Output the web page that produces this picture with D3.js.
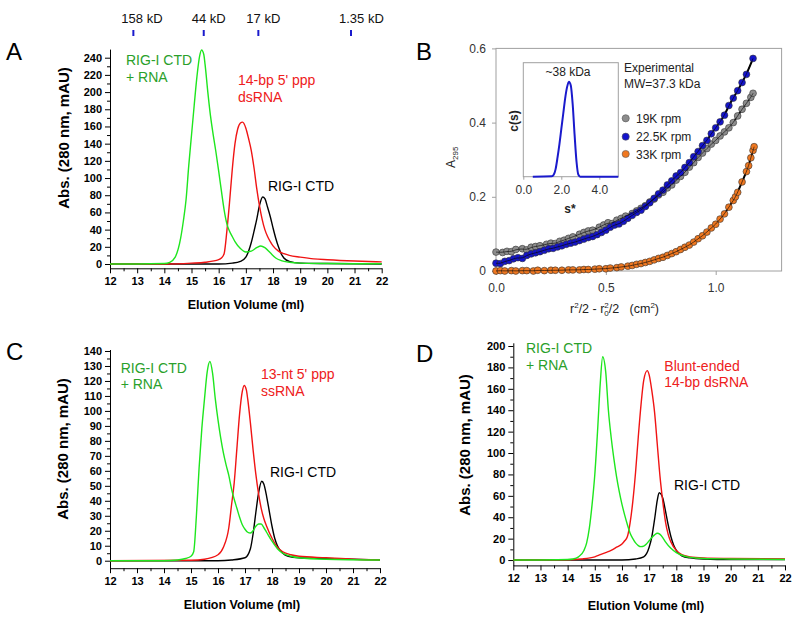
<!DOCTYPE html>
<html><head><meta charset="utf-8">
<script src="https://cdn.jsdelivr.net/npm/d3@7"></script>
<style>body{margin:0;background:#fff}svg{display:block;font-family:"Liberation Sans",Arial,sans-serif}</style>
</head><body><svg width="800" height="620"></svg>
<script>
// ---------- DATA ----------
const volTicks = [12,13,14,15,16,17,18,19,20,21,22];
const markerVols = [12.86, 15.45, 17.46, 20.87];
const markerLabels = ["158 kD","44 kD","17 kD","1.35 kD"];

// Panel A
const aGreen = [[12,0],[13,0],[14,0.5],[14.2,2],[14.4,8],[14.6,30],[14.7,50],[14.8,75],[14.9,115],[15.0,150],[15.1,185],[15.2,218],[15.3,242],[15.37,249],[15.45,244],[15.5,232],[15.6,200],[15.7,172],[15.8,150],[15.9,130],[16.0,108],[16.1,85],[16.2,63],[16.3,47],[16.4,38],[16.5,32],[16.6,26],[16.8,18],[17.0,14],[17.2,15],[17.4,19],[17.55,21],[17.7,19],[17.9,13],[18.1,7],[18.3,4],[18.6,2],[19,1],[20,0.5],[22,0.3]];
const aRed = [[12,0],[14,0],[15,1],[15.5,2],[16,5],[16.1,7],[16.2,12],[16.3,38],[16.4,72],[16.5,110],[16.6,140],[16.7,157],[16.8,164],[16.88,165],[17.0,158],[17.1,146],[17.2,132],[17.3,112],[17.4,88],[17.5,68],[17.6,52],[17.7,40],[17.8,32],[17.9,26],[18.0,21],[18.2,15],[18.4,12],[18.6,10],[19,8],[19.5,6],[20,5],[21,3.5],[22,2.5]];
const aBlack = [[12,0],[16,0],[16.5,1],[16.8,3],[17.0,8],[17.2,25],[17.3,38],[17.4,52],[17.5,68],[17.62,78],[17.7,76],[17.8,66],[17.9,55],[18.0,42],[18.1,30],[18.2,20],[18.3,12],[18.4,7],[18.6,3],[19,1],[20,0.5],[22,0]];

// Panel C
const cGreen = [[12,0],[14,0],[14.5,0.5],[14.8,1.5],[15.0,3],[15.1,6],[15.2,30],[15.3,62],[15.4,88],[15.5,108],[15.6,126],[15.7,133],[15.8,125],[15.9,108],[16.0,94],[16.1,82],[16.2,72],[16.3,64],[16.4,57],[16.5,48],[16.6,41],[16.7,35],[16.8,29],[16.9,24],[17.0,21],[17.1,19],[17.2,18.5],[17.3,20],[17.4,23],[17.5,24.5],[17.6,24.5],[17.7,22],[17.8,19],[18.0,13],[18.2,8],[18.4,5],[18.7,3],[19,2],[20,1],[22,0.5]];
const cRed = [[12,0],[15,0.3],[15.5,1],[16.0,4],[16.2,9],[16.4,22],[16.5,37],[16.6,52],[16.7,75],[16.8,98],[16.9,113],[16.97,117],[17.05,114],[17.1,108],[17.2,92],[17.3,74],[17.4,58],[17.5,45],[17.6,35],[17.7,28],[17.8,23],[18.0,15],[18.2,9],[18.4,6],[18.7,4],[19,3],[20,2],[21,1],[22,0.5]];
const cBlack = [[12,0],[16,0],[16.5,0.5],[17.0,2],[17.2,8],[17.3,18],[17.4,32],[17.5,45],[17.62,53],[17.7,51],[17.8,43],[17.9,33],[18.0,23],[18.1,15],[18.2,10],[18.4,5],[18.6,3],[19,2],[20,1.5],[22,0.5]];

// Panel D
const dGreen = [[12,0],[14,0.5],[14.2,1],[14.4,3],[14.6,9],[14.7,16],[14.8,30],[14.9,52],[15.0,80],[15.1,120],[15.2,165],[15.29,190],[15.4,176],[15.5,140],[15.6,115],[15.7,95],[15.8,78],[15.9,64],[16.0,52],[16.1,42],[16.2,33],[16.3,25],[16.4,20],[16.5,16],[16.6,13.5],[16.7,12.5],[16.8,13],[16.9,15],[17.0,18],[17.1,21],[17.2,23.5],[17.3,25],[17.4,24],[17.5,21],[17.6,17],[17.8,11],[18.0,7],[18.2,4.5],[18.5,2.5],[19,1.5],[20,1],[22,0.5]];
const dRed = [[12,0],[14,0.3],[14.5,1],[15.0,3],[15.2,5],[15.4,7],[15.6,9],[15.8,12],[16.0,15],[16.1,18],[16.2,22],[16.3,35],[16.4,55],[16.5,82],[16.6,115],[16.7,145],[16.8,168],[16.93,177],[17.0,173],[17.1,158],[17.2,138],[17.3,108],[17.4,78],[17.5,55],[17.6,36],[17.7,24],[17.8,17],[18.0,9],[18.2,5],[18.5,3],[19,2],[20,1.5],[22,1]];
const dBlack = [[12,0],[16,0],[16.5,1],[16.8,3],[17.0,12],[17.1,22],[17.2,38],[17.3,56],[17.37,63],[17.45,61],[17.5,58],[17.6,46],[17.7,33],[17.8,22],[17.9,14],[18.0,9],[18.2,4],[18.5,2],[19,1],[20,0.5],[22,0.5]];

// Panel B (sedimentation equilibrium)
const b19K = [[0.00,0.051],[0.03,0.050],[0.05,0.053],[0.07,0.052],[0.09,0.058],[0.12,0.060],[0.14,0.057],[0.16,0.064],[0.18,0.066],[0.20,0.068],[0.23,0.072],[0.25,0.075],[0.27,0.074],[0.29,0.080],[0.31,0.083],[0.33,0.088],[0.35,0.092],[0.38,0.099],[0.40,0.104],[0.42,0.108],[0.44,0.110],[0.47,0.118],[0.49,0.124],[0.51,0.130],[0.53,0.128],[0.55,0.137],[0.57,0.142],[0.59,0.148],[0.62,0.155],[0.64,0.162],[0.66,0.169],[0.68,0.176],[0.70,0.186],[0.72,0.194],[0.74,0.205],[0.76,0.212],[0.78,0.224],[0.80,0.232],[0.82,0.245],[0.84,0.255],[0.86,0.266],[0.88,0.280],[0.90,0.292],[0.92,0.306],[0.94,0.318],[0.96,0.330],[0.98,0.342],[1.00,0.352],[1.02,0.364],[1.04,0.375],[1.06,0.386],[1.08,0.400],[1.10,0.418],[1.12,0.436],[1.14,0.452],[1.16,0.468],[1.17,0.479]];
const b22K = [[0.00,0.021],[0.02,0.020],[0.04,0.026],[0.06,0.028],[0.08,0.033],[0.10,0.036],[0.12,0.034],[0.14,0.042],[0.16,0.046],[0.18,0.049],[0.20,0.052],[0.22,0.056],[0.24,0.060],[0.26,0.061],[0.28,0.065],[0.30,0.068],[0.32,0.072],[0.34,0.075],[0.36,0.078],[0.38,0.082],[0.40,0.086],[0.42,0.090],[0.44,0.093],[0.46,0.098],[0.48,0.104],[0.50,0.110],[0.52,0.118],[0.54,0.124],[0.56,0.127],[0.58,0.134],[0.60,0.142],[0.62,0.150],[0.64,0.158],[0.66,0.164],[0.68,0.174],[0.70,0.184],[0.72,0.196],[0.74,0.208],[0.76,0.218],[0.78,0.232],[0.80,0.243],[0.82,0.256],[0.84,0.265],[0.86,0.279],[0.88,0.292],[0.90,0.308],[0.92,0.322],[0.94,0.338],[0.96,0.352],[0.98,0.370],[1.00,0.386],[1.02,0.402],[1.04,0.420],[1.06,0.446],[1.08,0.466],[1.10,0.486],[1.12,0.508],[1.14,0.530],[1.17,0.573]];
const b33K = [[0.00,0.000],[0.02,0.001],[0.04,0.000],[0.07,0.001],[0.09,0.000],[0.12,0.001],[0.14,0.001],[0.17,0.000],[0.19,0.002],[0.22,0.001],[0.25,0.002],[0.27,0.002],[0.30,0.002],[0.33,0.003],[0.35,0.003],[0.38,0.003],[0.40,0.004],[0.42,0.004],[0.45,0.005],[0.47,0.006],[0.50,0.006],[0.52,0.008],[0.55,0.009],[0.57,0.011],[0.60,0.013],[0.62,0.015],[0.64,0.018],[0.66,0.020],[0.68,0.023],[0.70,0.026],[0.72,0.030],[0.74,0.034],[0.76,0.037],[0.78,0.042],[0.80,0.047],[0.82,0.052],[0.84,0.058],[0.86,0.064],[0.88,0.070],[0.90,0.078],[0.92,0.087],[0.94,0.095],[0.96,0.105],[0.98,0.116],[1.00,0.126],[1.02,0.140],[1.04,0.154],[1.06,0.172],[1.08,0.190],[1.09,0.200],[1.10,0.212],[1.12,0.240],[1.14,0.268],[1.15,0.284],[1.16,0.305],[1.17,0.325],[1.175,0.335]];
const bSeriesNames = ["19K rpm","22.5K rpm","33K rpm"];
const bXTicks = [0, 0.5, 1.0];
const bYTicks = [0, 0.2, 0.4, 0.6];
const insetCurve = [[0.5,0],[1.5,0.002],[1.6,0.01],[1.7,0.04],[1.8,0.1],[1.9,0.17],[2.0,0.25],[2.1,0.33],[2.2,0.41],[2.3,0.47],[2.4,0.5],[2.5,0.48],[2.6,0.38],[2.7,0.22],[2.8,0.08],[2.9,0.01],[3.0,0],[5,0]];
const insetTicks = [0, 2, 4];

// ---------- DRAW ----------
const svg = d3.select("svg");
const FONT = '"Liberation Sans",Arial,sans-serif';
const GREEN = "#1ee61e", RED = "#f01414", BLACK = "#000";
const GREEN_T = "#2aa02a", RED_T = "#ee2020";

function styleAxis(g, size, weight, color) {
  g.attr("font-family", FONT).attr("font-size", size).attr("font-weight", weight);
  g.selectAll("text").attr("fill", color || "#000");
}

function chrom(o) {
  const g = svg.append("g");
  const x = d3.scaleLinear([12, 22], [o.left, o.right]);
  const y = d3.scaleLinear(o.yDom, [o.bottom, o.top]);
  // minor ticks
  g.append("g").attr("transform", `translate(0,${o.bottom})`)
    .call(d3.axisBottom(x).tickValues(volTicks.slice(0, -1).map(v => v + 0.5)).tickSize(3).tickFormat(""))
    .call(a => a.select(".domain").remove());
  g.append("g").attr("transform", `translate(${o.left},0)`)
    .call(d3.axisLeft(y).tickValues(o.yMinor).tickSize(3).tickFormat(""))
    .call(a => a.select(".domain").remove());
  // major
  g.append("g").attr("transform", `translate(0,${o.bottom})`)
    .call(d3.axisBottom(x).tickValues(volTicks).tickSize(5).tickSizeOuter(0).tickPadding(4))
    .call(a => styleAxis(a, 11, "bold"));
  g.append("g").attr("transform", `translate(${o.left},0)`)
    .call(d3.axisLeft(y).tickValues(o.yMajor).tickSize(5).tickSizeOuter(0).tickPadding(3))
    .call(a => styleAxis(a, 11, "bold"));
  g.selectAll(".tick line, .domain").attr("stroke", "#000").attr("stroke-width", 1);
  const line = d3.line().x(d => x(d[0])).y(d => y(d[1])).curve(d3.curveMonotoneX);
  [[o.black, BLACK], [o.red, RED], [o.green, GREEN]].forEach(([data, c]) => {
    g.append("path").datum(data).attr("d", line).attr("fill", "none")
      .attr("stroke", c).attr("stroke-width", 1.4);
  });
  // titles
  g.append("text").attr("transform", `translate(${o.yTitle[0]},${o.yTitle[1]}) rotate(-90)`)
    .attr("text-anchor", "middle").attr("font-size", 15).attr("font-weight", "bold")
    .text("Abs. (280 nm, mAU)");
  g.append("text").attr("x", o.xTitle[0]).attr("y", o.xTitle[1])
    .attr("text-anchor", "middle").attr("font-size", 12.5).attr("font-weight", "bold")
    .text("Elution Volume (ml)");
  // curve labels
  o.labels.forEach(l => {
    const t = g.append("text").attr("font-size", 14).attr("fill", l.c);
    l.lines.forEach((s, i) => t.append("tspan").attr("x", l.x).attr("y", l.y + i * 16.7).text(s));
  });
  g.append("text").attr("x", o.letter[0]).attr("y", o.letter[1]).attr("font-size", 24).text(o.letter[2]);
  return {x, y, g};
}

// Panel A
const A = chrom({left: 110, right: 381.7, bottom: 268.3, top: 49.1, yDom: [-5, 250],
  yMajor: d3.range(0, 241, 20), yMinor: d3.range(10, 250, 20),
  green: aGreen, red: aRed, black: aBlack,
  yTitle: [69, 138], xTitle: [246, 309], letter: [6, 60, "A"],
  labels: [
    {x: 126, y: 65, c: GREEN_T, lines: ["RIG-I CTD", "+ RNA"]},
    {x: 238, y: 85, c: RED_T, lines: ["14-bp 5' ppp", "dsRNA"]},
    {x: 268, y: 190.5, c: "#000", lines: ["RIG-I CTD"]}
  ]});
// size markers
markerVols.forEach((v, i) => {
  A.g.append("line").attr("x1", A.x(v)).attr("x2", A.x(v)).attr("y1", 30).attr("y2", 36)
    .attr("stroke", "#1a1acc").attr("stroke-width", 2);
  A.g.append("text").attr("x", A.x(v) - 12).attr("y", 23).attr("font-size", 13)
    .attr("fill", "#111").text(markerLabels[i]);
});

// Panel C
chrom({left: 110, right: 380, bottom: 568.2, top: 349.5, yDom: [-5, 141],
  yMajor: d3.range(0, 141, 10), yMinor: d3.range(5, 141, 10),
  green: cGreen, red: cRed, black: cBlack,
  yTitle: [68, 449], xTitle: [242, 609], letter: [6, 360, "C"],
  labels: [
    {x: 120.7, y: 372.7, c: GREEN_T, lines: ["RIG-I CTD", "+ RNA"]},
    {x: 261, y: 379.3, c: RED_T, lines: ["13-nt 5' ppp", "ssRNA"]},
    {x: 270, y: 476.7, c: "#000", lines: ["RIG-I CTD"]}
  ]});

// Panel D
chrom({left: 513.3, right: 785, bottom: 565.4, top: 342.8, yDom: [-5, 203],
  yMajor: d3.range(0, 201, 20), yMinor: d3.range(10, 201, 20),
  green: dGreen, red: dRed, black: dBlack,
  yTitle: [470, 445], xTitle: [646, 610], letter: [416, 362, "D"],
  labels: [
    {x: 526, y: 353.3, c: GREEN_T, lines: ["RIG-I CTD", "+ RNA"]},
    {x: 664.3, y: 370.7, c: RED_T, lines: ["Blunt-ended", "14-bp dsRNA"]},
    {x: 674, y: 490, c: "#000", lines: ["RIG-I CTD"]}
  ]});

// Panel B
(function () {
  const g = svg.append("g");
  const x = d3.scaleLinear([0, 1.3], [496, 781.6]);
  const y = d3.scaleLinear([0, 0.6], [271, 48.4]);
  g.append("rect").attr("x", 496).attr("y", 48.4).attr("width", 285.6).attr("height", 222.6)
    .attr("fill", "none").attr("stroke", "#a0a0a0");
  g.append("g").attr("transform", "translate(0,271)")
    .call(d3.axisBottom(x).tickValues(bXTicks).tickSize(4).tickPadding(8).tickFormat(d3.format(".1f")))
    .call(a => { a.select(".domain").remove(); styleAxis(a, 12, "normal", "#333"); });
  g.append("g").attr("transform", "translate(496,0)")
    .call(d3.axisLeft(y).tickValues(bYTicks).tickSize(4).tickPadding(6).tickFormat(d => d === 0 ? "0" : d3.format(".1f")(d)))
    .call(a => { a.select(".domain").remove(); styleAxis(a, 12, "normal", "#333"); });
  g.selectAll(".tick line").attr("stroke", "#a0a0a0");

  const fit = d3.line().x(d => x(d[0])).y(d => y(d[1])).curve(d3.curveBasis);
  const sets = [[b19K, "#8c8c8c"], [b22K, "#1414cc"], [b33K, "#f07820"]];
  sets.forEach(([data, c]) => {
    g.append("path").datum(data).attr("d", fit).attr("fill", "none").attr("stroke", "#000").attr("stroke-width", 2);
  });
  sets.forEach(([data, c]) => {
    g.append("g").selectAll("circle").data(data).join("circle")
      .attr("cx", d => x(d[0])).attr("cy", d => y(d[1])).attr("r", 3.4)
      .attr("fill", c).attr("stroke", "#333").attr("stroke-width", 0.6);
  });
  sets.forEach(([data, c], i) => {
    g.append("path").datum(data).attr("d", fit).attr("fill", "none").attr("stroke", "#000").attr("stroke-width", 1).attr("opacity", 0.6);
  });

  // legend
  const ly = [118.3, 136.7, 154];
  sets.forEach(([data, c], i) => {
    g.append("circle").attr("cx", 625.7).attr("cy", ly[i]).attr("r", 3.6).attr("fill", c).attr("stroke", "#555").attr("stroke-width", 0.6);
    g.append("text").attr("x", 636).attr("y", ly[i] + 4.5).attr("font-size", 12).attr("fill", "#222").text(bSeriesNames[i]);
  });
  g.append("text").attr("x", 624).attr("y", 71.7).attr("font-size", 12).attr("fill", "#222").text("Experimental");
  g.append("text").attr("x", 624).attr("y", 88.3).attr("font-size", 12).attr("fill", "#222").text("MW=37.3 kDa");

  // axis titles
  const yt = g.append("text").attr("transform", "translate(455,168) rotate(-90)").attr("font-size", 12).attr("fill", "#222");
  yt.append("tspan").text("A");
  yt.append("tspan").attr("font-size", 8).attr("dy", 3).text("295");
  const xt = g.append("text").attr("x", 570).attr("y", 313).attr("font-size", 12.5).attr("fill", "#222");
  xt.append("tspan").text("r");
  xt.append("tspan").attr("font-size", 8).attr("dy", -5).text("2");
  xt.append("tspan").attr("dy", 5).text("/2 - r");
  xt.append("tspan").attr("font-size", 8).attr("dy", 3).text("0");
  xt.append("tspan").attr("font-size", 8).attr("dx", -4.5).attr("dy", -8).text("2");
  xt.append("tspan").attr("dy", 5).text("/2\u00a0\u00a0\u00a0(cm");
  xt.append("tspan").attr("font-size", 8).attr("dy", -5).text("2");
  xt.append("tspan").attr("dy", 5).text(")");

  // inset
  const ix = d3.scaleLinear([0, 5], [523.3, 618.3]);
  const iy = d3.scaleLinear([0, 0.6], [176.7, 62.7]);
  g.append("rect").attr("x", 523.3).attr("y", 62.7).attr("width", 95).attr("height", 114)
    .attr("fill", "#fff").attr("stroke", "#a0a0a0");
  g.append("g").attr("transform", "translate(0,176.7)")
    .call(d3.axisBottom(ix).tickValues(insetTicks).tickSize(3).tickPadding(6))
    .call(a => { a.select(".domain").remove(); styleAxis(a, 12, "normal", "#333"); a.selectAll(".tick line").attr("stroke", "#a0a0a0"); });
  g.append("path").datum(insetCurve)
    .attr("d", d3.line().x(d => ix(d[0])).y(d => iy(d[1])).curve(d3.curveMonotoneX))
    .attr("fill", "none").attr("stroke", "#1a1acc").attr("stroke-width", 2);
  g.append("text").attr("x", 568).attr("y", 76).attr("text-anchor", "middle").attr("font-size", 12).attr("fill", "#222").text("~38 kDa");
  g.append("text").attr("transform", "translate(518,121) rotate(-90)").attr("text-anchor", "middle")
    .attr("font-size", 12).attr("font-weight", "bold").attr("fill", "#222").text("c(s)");
  g.append("text").attr("x", 570).attr("y", 213).attr("text-anchor", "middle")
    .attr("font-size", 12).attr("font-weight", "bold").attr("fill", "#222").text("s*");

  g.append("text").attr("x", 416).attr("y", 60).attr("font-size", 24).text("B");
})();
</script></body></html>
